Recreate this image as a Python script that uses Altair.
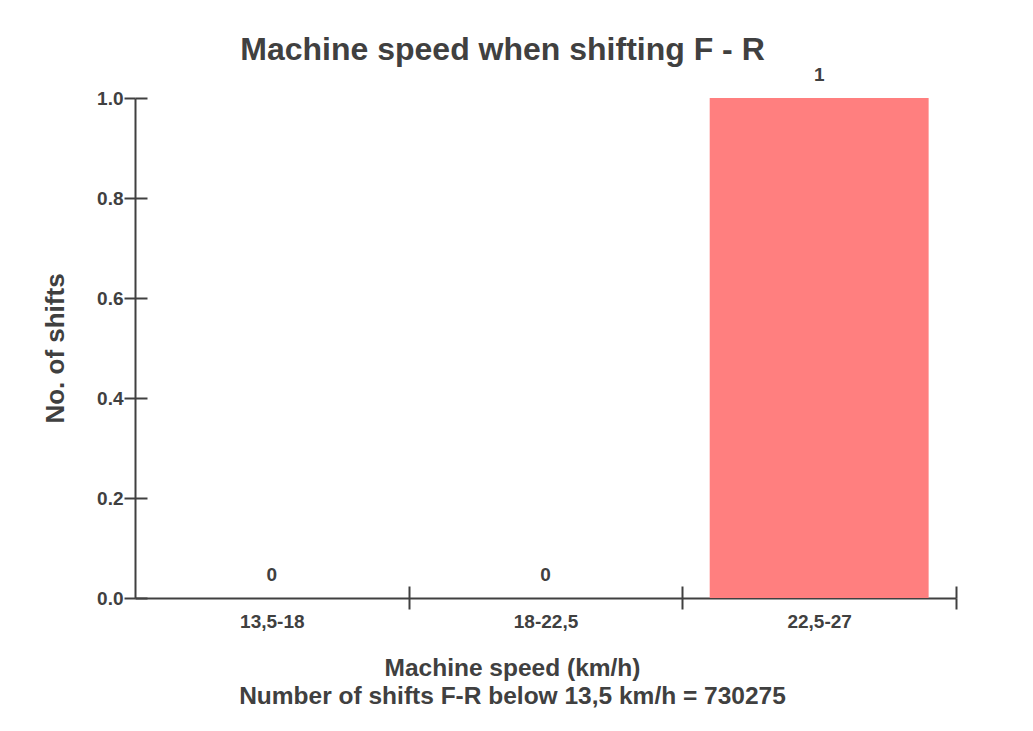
import altair as alt
import pandas as pd

categories = ["13,5-18", "18-22,5", "22,5-27"]
counts = [0, 0, 1]
y_ticks = [0.0, 0.2, 0.4, 0.6, 0.8, 1.0]

title_text = "Machine speed when shifting F - R"
x_title = ["Machine speed (km/h)", "Number of shifts F-R below 13,5 km/h = 730275"]
y_title = "No. of shifts"

df = pd.DataFrame({"speed": categories, "shifts": counts})

W, H = 821, 500
STEP = W / len(categories)
FONT = "Liberation Sans"
INK = "#404040"

xscale = alt.Scale(domain=categories, paddingInner=0.2, paddingOuter=0.1)
yscale = alt.Scale(domain=[0, 1])

x_main = alt.Axis(
    orient="bottom", tickOffset=STEP / 2, labelOffset=-STEP / 2, tickSize=11,
    tickWidth=2, tickColor=INK,
    domainColor=INK, domainWidth=2, labelAngle=0, labelFont=FONT, labelFontSize=19,
    labelFontWeight="bold", labelColor=INK, labelPadding=3,
    title=x_title, titleFont=FONT, titleFontSize=24.5, titleFontWeight="bold",
    titleColor=INK, titleX=377, titleY=77, titleAlign="center",
    titleBaseline="alphabetic", titleLineHeight=28, grid=False,
)
y_main = alt.Axis(
    orient="left", values=y_ticks, format=".1f", tickSize=11, tickWidth=2,
    tickColor=INK, domainColor=INK, domainWidth=2, labelFont=FONT,
    labelFontSize=19, labelFontWeight="bold", labelColor=INK, labelPadding=1,
    title=y_title, titleFont=FONT, titleFontSize=26, titleFontWeight="bold",
    titleColor=INK, titlePadding=28, grid=False,
)
x_inner = alt.Axis(
    orient="bottom", offset=-12, tickOffset=STEP / 2, tickSize=12, tickWidth=2,
    tickColor=INK, domain=False, labels=False, title=None, grid=False,
)
y_inner = alt.Axis(
    orient="left", offset=-12, values=y_ticks, tickSize=12, tickWidth=2,
    tickColor=INK, domain=False, labels=False, title=None, grid=False,
)

bars = alt.Chart(df).mark_bar(color="#FF7F7F").encode(
    x=alt.X("speed:N", scale=xscale, sort=categories, axis=x_main),
    y=alt.Y("shifts:Q", scale=yscale, axis=y_main),
)

labels = alt.Chart(df).mark_text(
    baseline="bottom", dy=-13, font=FONT, fontSize=19, fontWeight="bold", color=INK
).encode(
    x=alt.X("speed:N", scale=xscale, sort=categories, axis=x_inner),
    y=alt.Y("shifts:Q", scale=yscale, axis=y_inner),
    text=alt.Text("shifts:Q", format="d"),
)

chart = (
    alt.layer(bars, labels)
    .resolve_axis(x="independent", y="independent")
    .properties(
        width=W,
        height=H,
        title=alt.TitleParams(
            title_text, font=FONT, fontSize=32, fontWeight="bold", color=INK,
            anchor="middle", dx=-43, dy=5,
        ),
        autosize=alt.AutoSizeParams(type="none"),
        padding={"left": 127, "top": 90, "right": 69, "bottom": 125},
    )
    .configure(background="white", view=alt.ViewConfig(stroke=None, strokeWidth=0))
)

chart.save("out.html", embed_options={"renderer": "svg", "actions": False})
